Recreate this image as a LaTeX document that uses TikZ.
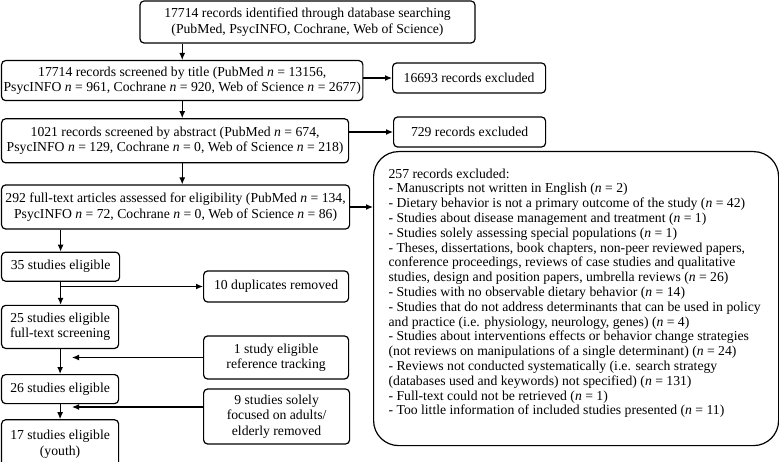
\documentclass[tikz,border=0pt]{standalone}
\usepackage{fontspec}
\setmainfont{Liberation Serif}
\usetikzlibrary{arrows.meta, positioning}

\newcommand{\enn}{\textit{n}}

\tikzset{
  box/.style={draw, rounded corners=4pt, align=center, inner sep=2pt,
    font=\fontsize{13.7}{15.5}\selectfont},
  bigbox/.style={draw, rounded corners=25pt, inner xsep=15pt, inner ysep=17pt,
    font=\fontsize{13.7}{14.8}\selectfont},
}

\begin{document}
\begin{tikzpicture}[x=1pt,y=-1pt,->,>={Latex[length=7pt,width=6pt]},line width=1.2pt]
\useasboundingbox (0,0) rectangle (779,462);

% main column
\node[box, minimum width=335pt, minimum height=42pt] (search) at (307.5,22)
  {17714 records identified through database searching\\(PubMed, PsycINFO, Cochrane, Web of Science)};
\node[box, minimum width=361pt, minimum height=40pt, anchor=north west] (title) at (1,60)
  {17714 records screened by title (PubMed \enn{} = 13156,\\PsycINFO \enn{} = 961, Cochrane \enn{} = 920, Web of Science \enn{} = 2677)};
\node[box, minimum width=347pt, minimum height=44pt, below=17pt of title.south west, anchor=north west] (abstract)
  {1021 records screened by abstract (PubMed \enn{} = 674,\\PsycINFO \enn{} = 129, Cochrane \enn{} = 0, Web of Science \enn{} = 218)};
\node[box, minimum width=348pt, minimum height=44pt, below=21pt of abstract.south west, anchor=north west] (fulltext)
  {292 full-text articles assessed for eligibility (PubMed \enn{} = 134,\\PsycINFO \enn{} = 72, Cochrane \enn{} = 0, Web of Science \enn{} = 86)};
\node[box, minimum width=118pt, minimum height=29pt, below=22pt of fulltext.south west, anchor=north west] (elig35)
  {35 studies eligible};
\node[box, minimum width=117pt, minimum height=43pt, below=23pt of elig35.south west, anchor=north west] (elig25)
  {25 studies eligible\\full-text screening};
\node[box, minimum width=117pt, minimum height=29pt, below=25pt of elig25.south west, anchor=north west] (elig26)
  {26 studies eligible};
\node[box, minimum width=117pt, minimum height=49pt, below=15pt of elig26.south west, anchor=north west] (elig17)
  {17 studies eligible\\(youth)};

% side boxes
\node[box, minimum width=153pt, minimum height=30pt, anchor=west] (excl1) at (392,78) {16693 records excluded};
\node[box, minimum width=152pt, minimum height=30pt, anchor=west] (excl2) at (393,132) {729 records excluded};
\node[box, minimum width=145pt, minimum height=31pt, anchor=west] (dup) at (203,286.5) {10 duplicates removed};
\node[box, minimum width=145pt, minimum height=43pt, anchor=west] (ref) at (203,357.5)
  {1 study eligible\\reference tracking};
\node[box, minimum width=146pt, minimum height=55pt, anchor=west] (adults) at (203,416.5)
  {9 studies solely\\focused on adults/\\elderly removed};
\node[bigbox, anchor=north west] (reasons) at (373,151)
  {\parbox[c][260pt][t]{375pt}{257 records excluded:\\
  - Manuscripts not written in English (\enn{} = 2)\\
  - Dietary behavior is not a primary outcome of the study (\enn{} = 42)\\
  - Studies about disease management and treatment (\enn{} = 1)\\
  - Studies solely assessing special populations (\enn{} = 1)\\
  - Theses, dissertations, book chapters, non-peer reviewed papers,\\
  conference proceedings, reviews of case studies and qualitative\\
  studies, design and position papers, umbrella reviews (\enn{} = 26)\\
  - Studies with no observable dietary behavior (\enn{} = 14)\\
  - Studies that do not address determinants that can be used in policy\\
  and practice (i.e. physiology, neurology, genes) (\enn{} = 4)\\
  - Studies about interventions effects or behavior change strategies\\
  (not reviews on manipulations of a single determinant) (\enn{} = 24)\\
  - Reviews not conducted systematically (i.e. search strategy\\
  (databases used and keywords) not specified) (\enn{} = 131)\\
  - Full-text could not be retrieved (\enn{} = 1)\\
  - Too little information of included studies presented (\enn{} = 11)}};

\coordinate (refin) at (72,357.5);
\coordinate (adultsin) at (72,407);

% connectors
\draw (title.north |- search.south) -- (title.north);
\draw (title.south) -- (title.south |- abstract.north);
\draw (title.south |- abstract.south) -- (title.south |- fulltext.north);
\draw (title.east |- excl1) -- (excl1);
\draw (abstract.east |- excl2) -- (excl2);
\draw (fulltext.east) -- (fulltext.east -| reasons.west);
\draw (elig35.north |- fulltext.south) -- (elig35.north);
\draw (elig35.south) -- (elig35.south |- elig25.north);
\draw (elig35.south |- dup) -- (dup);
\draw (elig25.south) -- (elig25.south |- elig26.north);
\draw (ref.west) -- (refin);
\draw (elig26.south) -- (elig26.south |- elig17.north);
\draw (adults.west |- adultsin) -- (adultsin);
\end{tikzpicture}
\end{document}
